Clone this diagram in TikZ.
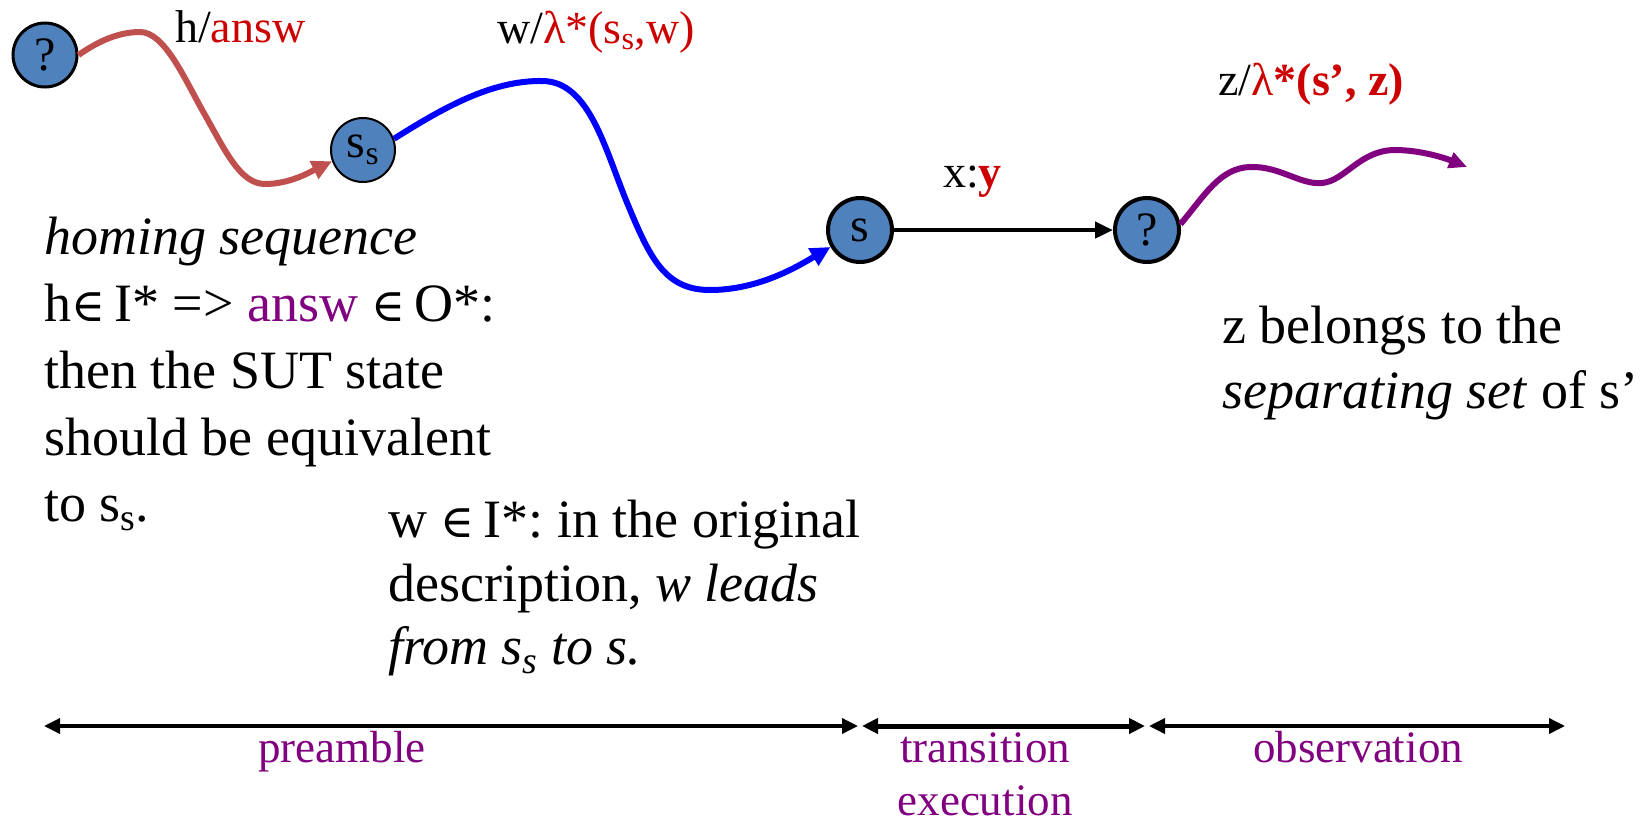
\documentclass[tikz,border=0pt]{standalone}
\usepackage{fontspec}
\setmainfont{Liberation Serif}
\newfontfamily\symf{DejaVu Serif}[Scale=0.85]
\newcommand{\elem}{{\symf ∈}}
\frenchspacing
\usetikzlibrary{arrows.meta}
\definecolor{nodeblue}{HTML}{4F81BD}
\definecolor{hred}{HTML}{C0504D}
\definecolor{lblred}{HTML}{CC0000}
\definecolor{purp}{HTML}{800080}
\definecolor{wblue}{HTML}{0000FF}
\begin{document}
\begin{tikzpicture}[x=1pt,y=-1pt,
  state/.style={circle,fill=nodeblue,draw=black,minimum size=64pt,inner sep=0pt,font=\fontsize{48}{56}\selectfont},
  body/.style={anchor=base west,inner sep=0pt,font=\fontsize{54}{66}\selectfont},
  elabel/.style={anchor=base west,inner sep=0pt,font=\fontsize{46}{54}\selectfont},
  phase/.style={anchor=base,inner sep=0pt,text=purp,font=\fontsize{45}{55}\selectfont},
  curvedge/.style={line width=6pt,-{Triangle[length=20pt,width=19pt]}},
  phasearrow/.style={line width=3.5pt,{Triangle[length=16pt,width=15pt]}-{Triangle[length=16pt,width=15pt]}}
]
\useasboundingbox (0,0) rectangle (1651,822);

% states
\node[state,line width=3pt] (q1) at (45,55) {?};
\node[state,line width=2pt] (ss) at (363,150) {s\textsubscript{s}};
\node[state,line width=4pt] (s) at (860,230) {s};
\node[state,line width=4pt] (q2) at (1147,230) {?};

% h edge
\draw[curvedge,draw=hred] (q1.east) .. controls (100,40) and (120,32) .. (140,32)
   .. controls (165,32) and (185,80) .. (205,115)
   .. controls (225,150) and (240,184) .. (265,184)
   .. controls (290,184) and (310,172) .. (ss.200);
% w edge
\draw[curvedge,draw=wblue] (ss.20) .. controls (440,110) and (490,80) .. (543,81)
   .. controls (590,82) and (605,150) .. (628,205)
   .. controls (650,258) and (665,290) .. (710,290)
   .. controls (760,290) and (800,265) .. (s.210);
% x:y edge
\draw[line width=4.5pt,-{Triangle[length=18pt,width=16pt]}] (s) -- (q2);
% z edge
\coordinate (zend) at (1467,167);
\draw[curvedge,draw=purp,-{Triangle[length=18pt,width=16pt]}] (q2.10) .. controls (1205,195) and (1220,168) .. (1250,167)
   .. controls (1280,166) and (1300,185) .. (1322,183)
   .. controls (1345,181) and (1360,150) .. (1395,150)
   .. controls (1420,150) and (1445,158) .. (zend);

% edge labels
\node[elabel] (lh) at (175,42) {h/\textcolor{lblred}{answ}};
\node[elabel] (lw) at (497,43) {w/\textcolor{lblred}{λ*(s\textsubscript{s},w)}};
\node[elabel] (lx) at (943,187) {x:\textcolor{lblred}{\textbf{y}}};
\node[elabel] (lz) at (1218,95) {z/\textcolor{lblred}{λ\textbf{*(s’, z)}}};

% left text block
\node[body] (l1) at (44,254) {\textit{homing sequence}};
\node[body] (l2) at (44,321) {h\elem\,I* => \textcolor{purp}{answ} \elem\,O*:};
\node[body] (l3) at (44,388) {then the SUT state};
\node[body] (l4) at (44,455) {should be equivalent};
\node[body] (l5) at (44,521) {to s\textsubscript{s}.};

% middle text block
\node[body] (m1) at (388,537) {w \elem\,I*: in the original};
\node[body] (m2) at (388,601) {description, \textit{w leads}};
\node[body] (m3) at (388,664) {\textit{from s\textsubscript{s} to s.}};

% right text block
\node[body] (r1) at (1222,343) {z belongs to the};
\node[body] (r2) at (1222,408) {\textit{separating set} of s’};

% phase arrows
\coordinate (b0) at (44,726);
\coordinate (b1) at (858,726);
\coordinate (b1b) at (862,726);
\coordinate (b2) at (1145,726);
\coordinate (b2b) at (1149,726);
\coordinate (b3) at (1565,726);
\draw[phasearrow] (b0) -- (b1);
\draw[phasearrow,line width=5pt] (b1b) -- (b2);
\draw[phasearrow] (b2b) -- (b3);

\node[phase] (pre) at (342,762) {preamble};
\node[phase] (tr1) at (985,762) {transition};
\node[phase] (tr2) at (985,815) {execution};
\node[phase] (obs) at (1358,762) {observation};
\end{tikzpicture}
\end{document}
